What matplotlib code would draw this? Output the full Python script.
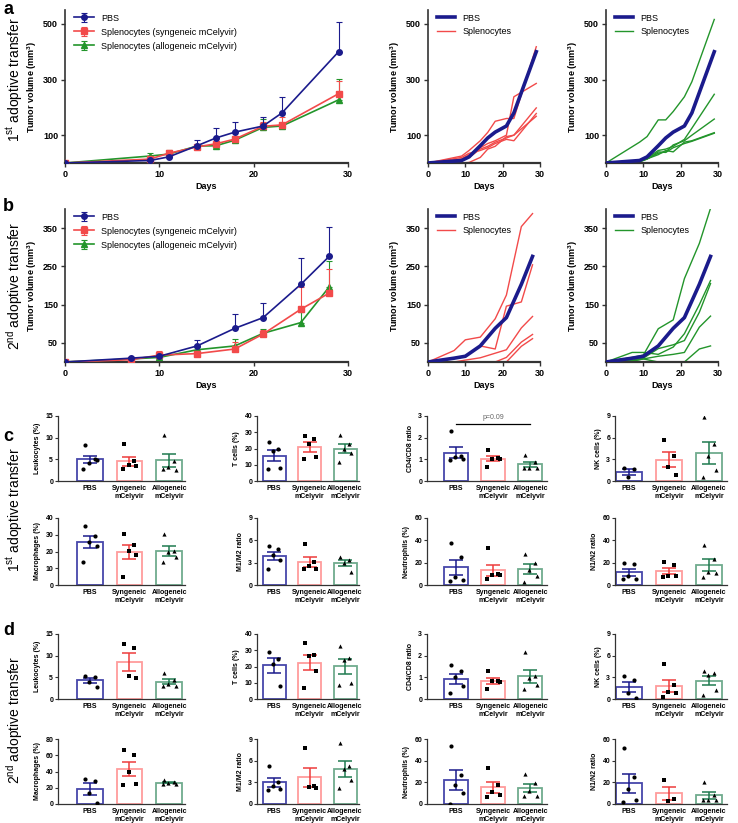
import numpy as np
import matplotlib
matplotlib.use('Agg')
import matplotlib.pyplot as plt
from matplotlib.lines import Line2D

plt.rcParams['font.family'] = ['Liberation Sans', 'DejaVu Sans']
plt.rcParams['mathtext.default'] = 'regular'

# ---------------- data ----------------
days_a = [0, 9, 11, 14, 16, 18, 21, 23, 29]
a_pbs = [0, 9, 22, 62, 90, 111, 133, 180, 400]
a_pbs_err = [0, 3, 5, 20, 37, 37, 32, 57, 106]
a_syn = [0, 14, 35, 58, 69, 86, 132, 137, 249]
a_syn_err = [0, 8, 12, 8, 10, 10, 15, 28, 47]
a_allo = [0, 25, 32, 61, 62, 82, 128, 133, 227]
a_allo_err = [0, 12, 15, 5, 8, 8, 30, 10, 75]

a_syn_mice = [
    [0, 25, 45, 80, 110, 150, 160, 160, 418],
    [0, 15, 30, 55, 70, 80, 100, 238, 286],
    [0, 10, 20, 50, 60, 75, 90, 100, 198],
    [0, 20, 35, 45, 55, 70, 85, 80, 178],
    [0, 0, 2, 20, 50, 60, 95, 100, 168],
]
a_allo_mice = [
    [0, 75, 95, 155, 155, 185, 238, 292, 516],
    [0, 8, 18, 45, 50, 60, 85, 125, 247],
    [0, 6, 15, 35, 40, 65, 80, 100, 158],
    [0, 5, 15, 30, 45, 40, 75, 80, 109],
    [0, 4, 14, 40, 38, 55, 70, 78, 107],
]

days_b = [0, 7, 10, 14, 18, 21, 25, 28]
b_pbs = [0, 10, 15, 42, 88, 116, 203, 276]
b_pbs_err = [0, 3, 4, 16, 37, 38, 68, 78]
b_syn = [0, 6, 18, 22, 34, 73, 138, 180]
b_syn_err = [0, 2, 12, 6, 18, 10, 58, 62]
b_allo = [0, 8, 12, 32, 42, 75, 103, 196]
b_allo_err = [0, 2, 4, 8, 19, 10, 29, 67]

b_syn_mice = [
    [0, 30, 58, 65, 113, 175, 354, 388],
    [0, 10, 15, 42, 34, 146, 157, 254],
    [0, 0, 5, 11, 23, 32, 89, 119],
    [0, 0, 0, 0, 0, 12, 52, 72],
    [0, 0, 0, 0, 0, 0, 41, 61],
]
b_allo_mice = [
    [0, 12, 18, 87, 110, 218, 310, 402],
    [0, 25, 25, 20, 39, 74, 150, 213],
    [0, 5, 10, 35, 45, 56, 130, 205],
    [0, 3, 8, 15, 20, 25, 91, 120],
    [0, 2, 8, 0, 0, 0, 34, 42],
]

groups = ['PBS', 'Syngeneic\nmCelyvir', 'Allogeneic\nmCelyvir']

c_leukocytes = [[8.2, 5.0, 4.2, 4.8, 2.7], [8.6, 4.6, 3.6, 3.4, 2.7], [10.6, 4.6, 3.3, 2.5, 2.8]]
c_tcells = [[24.3, 20.0, 18.5, 8.3, 7.2], [28, 26, 22.5, 14.8, 13.5], [28.5, 22.5, 20, 17, 11.5]]
c_cd4cd8 = [[2.3, 1.15, 1.1, 1.0, 0.98], [1.45, 1.05, 1.0, 1.0, 0.65], [1.2, 0.9, 0.6, 0.6, 0.6]]
c_nk = [[1.8, 1.6, 0.5], [5.7, 3.4, 1.9, 0.8], [8.8, 5.1, 3.5, 1.5, 0.5]]
c_macro = [[35.5, 29.5, 25.5, 23.5, 14], [30.5, 24, 20.5, 18, 5], [30.5, 20.5, 19.5, 17, 13.5]]
c_m1m2 = [[5.3, 4.9, 4.0, 3.3, 2.2], [5.5, 3.1, 2.5, 2.2, 2.2], [3.8, 3.3, 3.0, 1.7]]
c_neutro = [[37.5, 25, 7.5, 4.5, 4], [33, 9.5, 9, 9, 5], [28, 19.5, 13, 8, 2.5]]
c_n1n2 = [[20, 19, 8, 5, 5], [20.5, 17.5, 8, 8, 7.5], [35.5, 23, 12, 11, 7]]

d_leukocytes = [[5.4, 5.1, 4.0, 2.8], [12.6, 11.7, 5.2, 4.9], [6.0, 4.3, 3.5, 3.0, 2.9]]
d_tcells = [[29, 24.5, 21.5, 8], [34.5, 27, 26.5, 17, 7], [32.5, 25.5, 24, 10, 8.5]]
d_cd4cd8 = [[1.55, 1.3, 1.0, 0.6, 0.27], [1.27, 0.85, 0.85, 0.8, 0.45], [2.15, 1.05, 0.95, 0.65, 0.45]]
d_nk = [[3.2, 2.6, 0.8, 0.1], [4.8, 2.0, 1.0, 0.8, 0.3], [3.9, 3.6, 3.3, 1.3, 0.6]]
d_macro = [[31, 28, 14, 1], [67, 60, 40, 25, 24], [29, 27, 26, 25, 25]]
d_m1m2 = [[5.3, 3.0, 2.5, 2.1, 2.0], [7.7, 2.5, 2.4, 2.2], [8.5, 5.3, 4.8, 3.3, 2.2]]
d_neutro = [[54, 27, 18, 10, 0.3], [33.5, 17.5, 11, 8, 6.5], [28, 19, 12, 7.5, 7.5]]
d_n1n2 = [[51.5, 24.5, 13.5, 3.5, 2], [22, 5, 3], [20.5, 8.5, 3.5, 3.5, 3.5]]

# ---------------- style ----------------
NAVY = '#1b1b8c'
RED = '#f24a4a'
GREEN = '#23952b'
BAR_EDGE = ['#4646aa', '#ff9c9c', '#6fab8e']
ERR_COL = ['#1b1b8c', '#ee3c3c', '#1f7a50']
MARKERS = ['o', 's', '^']
SPINE = '#333333'

W, H = 738, 823
fig = plt.figure(figsize=(W / 100, H / 100), dpi=100)


def ax_px(left, top, width, height):
    return fig.add_axes([left / W, 1 - (top + height) / H, width / W, height / H])


def style_line_ax(ax, ylim, yticks):
    for s in ['top', 'right']:
        ax.spines[s].set_visible(False)
    ax.spines['left'].set_color(SPINE)
    ax.spines['bottom'].set_color(SPINE)
    ax.spines['left'].set_linewidth(1.2)
    ax.spines['bottom'].set_linewidth(1.6)
    ax.set_xlim(0, 30)
    ax.set_ylim(*ylim)
    ax.set_xticks([0, 10, 20, 30])
    ax.set_yticks(yticks)
    ax.tick_params(direction='out', length=3, width=1, colors=SPINE, labelsize=6.5, pad=2)
    for lab in ax.get_xticklabels() + ax.get_yticklabels():
        lab.set_fontweight('bold')
        lab.set_color('black')
    ax.set_xlabel('Days', fontsize=6.5, fontweight='bold', labelpad=2)
    ax.set_ylabel('Tumor volume (mm$^3$)', fontsize=6.5, fontweight='bold', labelpad=3)


def mean_panel(ax, days, pbs, pbse, syn, syne, allo, alloe, ylim, yticks):
    z = np.zeros(len(days))
    ax.errorbar(days, allo, yerr=[z, alloe], fmt='-^', color=GREEN, lw=1.2, ms=4,
                capsize=2.5, elinewidth=0.8, capthick=0.8, zorder=3,
                label='Splenocytes (allogeneic mCelyvir)')
    ax.errorbar(days, syn, yerr=[z, syne], fmt='-s', color=RED, lw=1.2, ms=4,
                capsize=2.5, elinewidth=0.8, capthick=0.8, zorder=4,
                label='Splenocytes (syngeneic mCelyvir)')
    ax.errorbar(days, pbs, yerr=[z, pbse], fmt='-o', color=NAVY, lw=1.2, ms=4,
                capsize=2.5, elinewidth=0.8, capthick=0.8, zorder=5, label='PBS')
    style_line_ax(ax, ylim, yticks)
    h, l = ax.get_legend_handles_labels()
    ax.legend(h[::-1], l[::-1], loc='upper left', bbox_to_anchor=(0.02, 1.0), frameon=False,
              fontsize=6.5, handlelength=2.2, labelspacing=0.55, borderaxespad=0)


def mice_panel(ax, days, pbs, mice, col, ylim, yticks):
    for m in mice:
        ax.plot(days, m, color=col, lw=1.0, zorder=2)
    ax.plot(days, pbs, color=NAVY, lw=2.6, zorder=3)
    style_line_ax(ax, ylim, yticks)
    handles = [Line2D([], [], color=NAVY, lw=2.6), Line2D([], [], color=col, lw=1.0)]
    ax.legend(handles, ['PBS', 'Splenocytes'], loc='upper left', bbox_to_anchor=(0.05, 1.0),
              frameon=False, fontsize=6.5, handlelength=2.0, labelspacing=0.45, borderaxespad=0)


# row a
ax = ax_px(65, 10, 283, 153)
mean_panel(ax, days_a, a_pbs, a_pbs_err, a_syn, a_syn_err, a_allo, a_allo_err, (0, 550), [100, 300, 500])
ax = ax_px(428, 10, 112, 153)
mice_panel(ax, days_a, a_pbs, a_syn_mice, RED, (0, 550), [100, 300, 500])
ax = ax_px(606, 10, 112, 153)
mice_panel(ax, days_a, a_pbs, a_allo_mice, GREEN, (0, 550), [100, 300, 500])

# row b
ax = ax_px(65, 209, 283, 153)
mean_panel(ax, days_b, b_pbs, b_pbs_err, b_syn, b_syn_err, b_allo, b_allo_err, (0, 400), [50, 150, 250, 350])
ax = ax_px(428, 209, 112, 153)
mice_panel(ax, days_b, b_pbs, b_syn_mice, RED, (0, 400), [50, 150, 250, 350])
ax = ax_px(606, 209, 112, 153)
mice_panel(ax, days_b, b_pbs, b_allo_mice, GREEN, (0, 400), [50, 150, 250, 350])

# ---------------- bar panels ----------------
JIT = [-0.13, 0.12, -0.02, 0.17, -0.16]
bar_cols = [(58, 39.7, 0.8, 0.4), (257, 35.5, 0.48, 0.4), (427, 37.0, 0.79, 0.45), (615, 40.0, 0.35, 0.45)]
bar_rows = [(416, 481), (518, 585), (634, 699), (739, 804)]


def bar_panel(row, col, data, ymax, yticks, ylabel):
    left, sp, L, R = bar_cols[col]
    top, bot = bar_rows[row]
    ax = ax_px(left, top, sp * (2 + L + R), bot - top)
    for i, vals in enumerate(data):
        v = np.array(vals, dtype=float)
        m = v.mean()
        se = v.std(ddof=1) / np.sqrt(len(v))
        ax.bar(i, m, width=0.65, facecolor='white', edgecolor=BAR_EDGE[i], lw=1.3, zorder=2)
        ax.errorbar(i, m, yerr=se, color=ERR_COL[i], capsize=5, elinewidth=1.1,
                    capthick=1.1, zorder=3)
        ax.scatter(i + np.array(JIT[:len(v)]), v, marker=MARKERS[i], s=9, color='black',
                   zorder=4, linewidths=0)
    for s in ['top', 'right']:
        ax.spines[s].set_visible(False)
    for s in ['left', 'bottom']:
        ax.spines[s].set_color(SPINE)
        ax.spines[s].set_linewidth(0.9)
    ax.set_xlim(-L, 2 + R)
    ax.set_ylim(0, ymax)
    ax.set_yticks(yticks)
    ax.set_xticks([0, 1, 2])
    ax.set_xticklabels(groups)
    ax.tick_params(axis='y', direction='out', length=2, width=0.8, labelsize=5, pad=1.5, colors=SPINE)
    ax.tick_params(axis='x', length=0, labelsize=5, pad=3)
    for lab in ax.get_xticklabels() + ax.get_yticklabels():
        lab.set_fontweight('bold')
        lab.set_color('black')
    ax.set_ylabel(ylabel, fontsize=5, fontweight='bold', labelpad=3)
    return ax


bar_panel(0, 0, c_leukocytes, 15, [0, 5, 10, 15], 'Leukocytes (%)')
bar_panel(0, 1, c_tcells, 40, [0, 10, 20, 30, 40], 'T cells (%)')
axp = bar_panel(0, 2, c_cd4cd8, 3, [0, 1, 2, 3], 'CD4/CD8 ratio')
axp.plot([0, 2], [2.65, 2.65], color='black', lw=0.9, clip_on=False)
axp.text(1, 2.78, 'p=0.09', ha='center', va='bottom', fontsize=5, color='#666666')
bar_panel(0, 3, c_nk, 9, [0, 3, 6, 9], 'NK cells (%)')
bar_panel(1, 0, c_macro, 40, [0, 10, 20, 30, 40], 'Macrophages (%)')
bar_panel(1, 1, c_m1m2, 9, [0, 3, 6, 9], 'M1/M2 ratio')
bar_panel(1, 2, c_neutro, 60, [0, 20, 40, 60], 'Neutrophils (%)')
bar_panel(1, 3, c_n1n2, 60, [0, 20, 40, 60], 'N1/N2 ratio')

bar_panel(2, 0, d_leukocytes, 15, [0, 5, 10, 15], 'Leukocytes (%)')
bar_panel(2, 1, d_tcells, 40, [0, 10, 20, 30, 40], 'T cells (%)')
bar_panel(2, 2, d_cd4cd8, 3, [0, 1, 2, 3], 'CD4/CD8 ratio')
bar_panel(2, 3, d_nk, 9, [0, 3, 6, 9], 'NK cells (%)')
bar_panel(3, 0, d_macro, 80, [0, 20, 40, 60, 80], 'Macrophages (%)')
bar_panel(3, 1, d_m1m2, 9, [0, 3, 6, 9], 'M1/M2 ratio')
bar_panel(3, 2, d_neutro, 60, [0, 20, 40, 60], 'Neutrophils (%)')
bar_panel(3, 3, d_n1n2, 60, [0, 20, 40, 60], 'N1/N2 ratio')

# ---------------- panel letters & row labels ----------------
for letter, y in [('a', 1), ('b', 198), ('c', 428), ('d', 622)]:
    fig.text(3 / W, 1 - y / H, letter, fontsize=13, fontweight='bold', va='top', ha='left')

for txt, y in [('1$^{st}$ adoptive transfer', 80), ('2$^{nd}$ adoptive transfer', 286),
               ('1$^{st}$ adoptive transfer', 510), ('2$^{nd}$ adoptive transfer', 720)]:
    fig.text(15 / W, 1 - y / H, txt, fontsize=10, rotation=90, va='center', ha='center')

fig.savefig('out.png', dpi=100)
